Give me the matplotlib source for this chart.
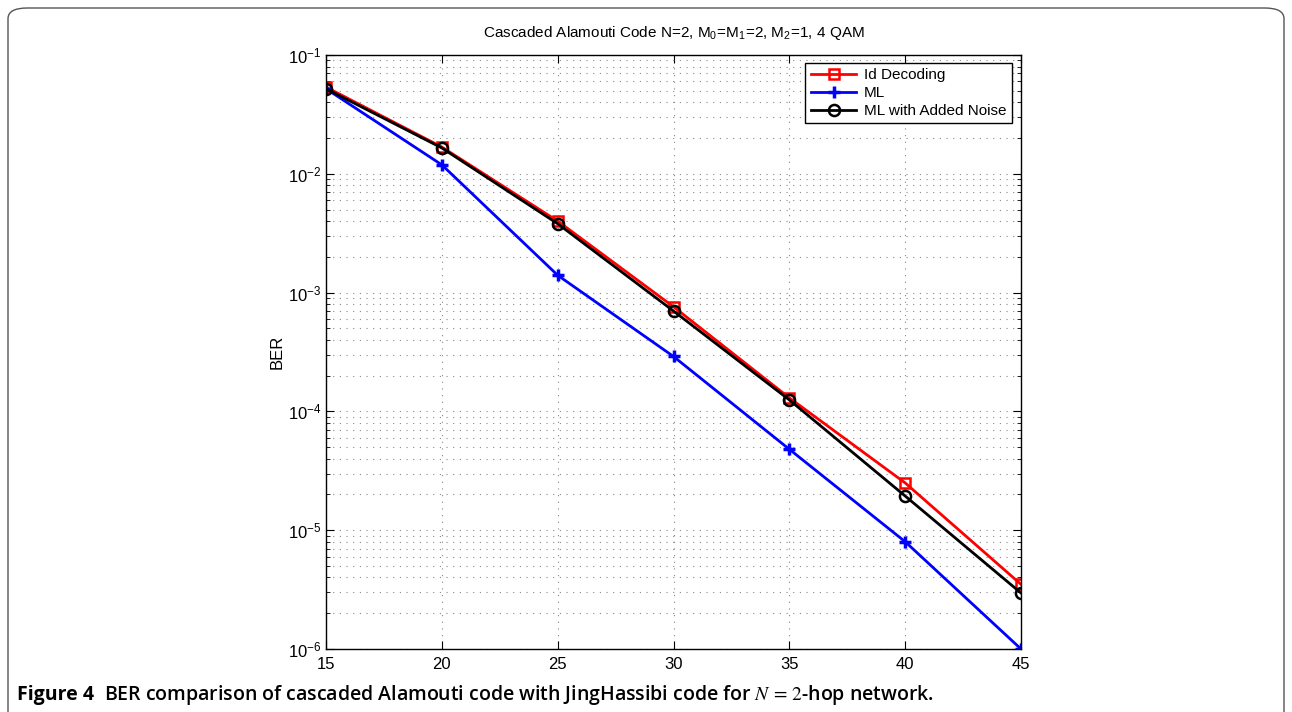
import matplotlib
matplotlib.use("Agg")
import matplotlib.pyplot as plt
from matplotlib.patches import FancyBboxPatch
from matplotlib.ticker import LogLocator, NullFormatter

# SNR points and BER values
snr = [15, 20, 25, 30, 35, 40, 45]
ber_id = [0.0537, 0.0168, 0.0040, 7.6e-4, 1.3e-4, 2.5e-5, 3.5e-6]
ber_ml = [0.052, 0.0119, 1.4e-3, 2.9e-4, 4.8e-5, 8.0e-6, 1.0e-6]
ber_noise = [0.052, 0.0165, 3.8e-3, 7.0e-4, 1.25e-4, 1.94e-5, 2.96e-6]
y_exps = [-6, -5, -4, -3, -2, -1]

plt.rcParams['font.family'] = ['Liberation Sans', 'DejaVu Sans']
plt.rcParams['mathtext.fontset'] = 'stix'

fig = plt.figure(figsize=(12.92, 7.12), dpi=100)
ax = fig.add_axes([326 / 1292, 1 - 649 / 712, (1021 - 326) / 1292, (649 - 55) / 712])

# rounded frame around the whole figure
frame = FancyBboxPatch((8 / 1292, -0.05), 1276 / 1292, 1 - 8 / 712 + 0.05,
                       boxstyle="round,pad=0,rounding_size=0.015",
                       transform=fig.transFigure, fill=False,
                       edgecolor="#555555", linewidth=1.0, clip_on=False)
fig.patches.append(frame)

# Plot the three curves
ax.semilogy(snr, ber_id, color="red", marker="s", markersize=7, linewidth=2,
            markerfacecolor="none", markeredgewidth=1.8, label="Id Decoding")
ax.semilogy(snr, ber_ml, color="blue", marker="+", markersize=8, linewidth=2,
            markeredgewidth=2.5, label="ML")
ax.semilogy(snr, ber_noise, color="black", marker="o", markersize=8, linewidth=2,
            markerfacecolor="none", markeredgewidth=1.8, label="ML with Added Noise")

ax.set_xlim(15, 45)
ax.set_ylim(1e-6, 1e-1)
ax.set_xticks(snr)
ax.set_yticks([10.0 ** e for e in y_exps])
ax.set_yticklabels(["$\\mathregular{10^{%d}}$" % e for e in y_exps])
ax.yaxis.set_minor_locator(LogLocator(base=10, subs=range(2, 10), numticks=20))
ax.yaxis.set_minor_formatter(NullFormatter())

ax.grid(True, which="major", linestyle=(0, (1, 5)), color="#888888", linewidth=0.8)
ax.grid(True, which="minor", axis="y", linestyle=(0, (1, 5)), color="#888888", linewidth=0.8)
ax.tick_params(which="both", direction="in", top=True, right=True, labelsize=12)
ax.tick_params(which="major", length=6)
ax.tick_params(which="minor", length=3)
ax.tick_params(axis="x", pad=6)
for s in ax.spines.values():
    s.set_linewidth(1.0)

ax.set_ylabel("BER", fontsize=12, labelpad=2)
ax.set_title("Cascaded Alamouti Code N=2, M$_\\mathregular{0}$=M$_\\mathregular{1}$=2, "
             "M$_\\mathregular{2}$=1, 4 QAM", fontsize=11, pad=13)

leg = ax.legend(loc="upper right", fontsize=11, fancybox=False, framealpha=1,
                edgecolor="black", handlelength=3.0, borderpad=0.35, labelspacing=0.25,
                handletextpad=0.5, borderaxespad=0, bbox_to_anchor=(0.987, 0.9865))
leg.get_frame().set_linewidth(1.0)

# Caption
fig.text(17 / 1292, 1 - 695 / 712, "Figure 4", fontsize=14, fontweight="bold",
         family=["Open Sans", "DejaVu Sans"], va="center")
fig.text(104 / 1292, 1 - 695 / 712,
         "BER comparison of cascaded Alamouti code with JingHassibi code for $N\\,=\\,2$-hop network.",
         fontsize=14, fontweight="semibold", family=["Open Sans", "DejaVu Sans"], va="center")

fig.savefig("out.png", dpi=100)
